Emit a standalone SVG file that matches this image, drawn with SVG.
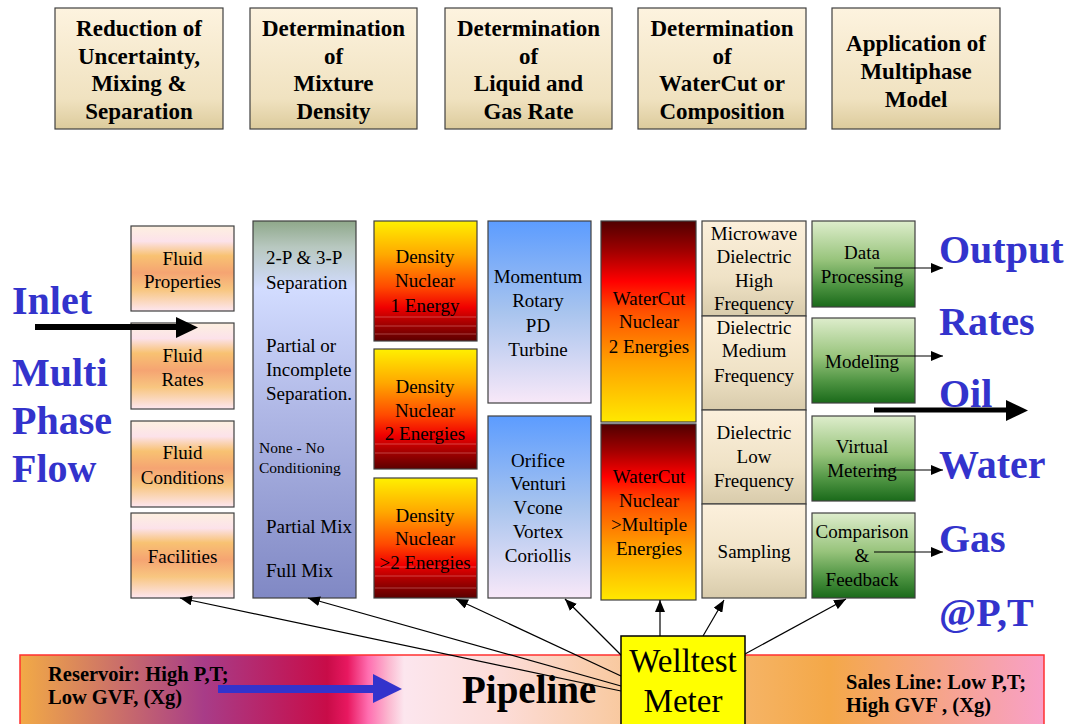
<svg xmlns="http://www.w3.org/2000/svg" width="1072" height="724" viewBox="0 0 1072 724">
<style>
.t{font-family:"Liberation Serif","Times New Roman",serif;fill:#000}
.tb{font-family:"Liberation Serif","Times New Roman",serif;font-weight:bold;font-size:23px;text-anchor:middle;fill:#000}
.c{font-size:19px;text-anchor:middle}
.big{font-family:"Liberation Serif","Times New Roman",serif;font-weight:bold;font-size:40px;fill:#3333cc}
.box{stroke:#404040;stroke-width:1.2}
.ln{stroke:#000;stroke-width:1.2;fill:none}
</style>
<defs>
<linearGradient id="gTop" x1="0" y1="0" x2="0" y2="1">
<stop offset="0" stop-color="#fdf3df"/><stop offset="0.75" stop-color="#f0e2c0"/><stop offset="1" stop-color="#dccb9c"/>
</linearGradient>
<linearGradient id="gFluid" x1="0" y1="0" x2="0" y2="1">
<stop offset="0" stop-color="#fdf0e0"/><stop offset="0.18" stop-color="#fce2ea"/><stop offset="0.35" stop-color="#f8c272"/><stop offset="0.55" stop-color="#f5a472"/><stop offset="0.75" stop-color="#f8c680"/><stop offset="1" stop-color="#fde6f0"/>
</linearGradient>
<linearGradient id="gSep" x1="0" y1="0" x2="0" y2="1">
<stop offset="0" stop-color="#8fa88a"/><stop offset="0.07" stop-color="#b8c8c0"/><stop offset="0.18" stop-color="#d2dcff"/><stop offset="0.5" stop-color="#b0b8e6"/><stop offset="1" stop-color="#8088c4"/>
</linearGradient>
<linearGradient id="gDen" x1="0" y1="0" x2="0" y2="1">
<stop offset="0" stop-color="#fff000"/><stop offset="0.28" stop-color="#ffa800"/><stop offset="0.55" stop-color="#ff4a00"/><stop offset="0.72" stop-color="#f00000"/><stop offset="0.85" stop-color="#a80000"/><stop offset="1" stop-color="#5c0000"/>
</linearGradient>
<linearGradient id="gFlow" x1="0" y1="0" x2="0" y2="1">
<stop offset="0" stop-color="#5c9cff"/><stop offset="0.5" stop-color="#a8c4ee"/><stop offset="1" stop-color="#f8e8f8"/>
</linearGradient>
<linearGradient id="gWc" x1="0" y1="0" x2="0" y2="1">
<stop offset="0" stop-color="#500000"/><stop offset="0.15" stop-color="#a00000"/><stop offset="0.3" stop-color="#ff0000"/><stop offset="0.45" stop-color="#ff5000"/><stop offset="0.7" stop-color="#ffa000"/><stop offset="1" stop-color="#ffe800"/>
</linearGradient>
<linearGradient id="gDie" x1="0" y1="0" x2="0" y2="1">
<stop offset="0" stop-color="#fcf0dc"/><stop offset="0.6" stop-color="#efe2c6"/><stop offset="1" stop-color="#d8cbab"/>
</linearGradient>
<linearGradient id="gGreen" x1="0" y1="0" x2="0" y2="1">
<stop offset="0" stop-color="#deedcc"/><stop offset="0.45" stop-color="#98c47c"/><stop offset="0.75" stop-color="#4e9442"/><stop offset="1" stop-color="#1a6a1a"/>
</linearGradient>
<linearGradient id="gBar" x1="0" y1="0" x2="1" y2="0">
<stop offset="0" stop-color="#f2aa46"/><stop offset="0.18" stop-color="#a83c88"/><stop offset="0.3" stop-color="#c80c48"/><stop offset="0.32" stop-color="#e81860"/><stop offset="0.34" stop-color="#ff6eb0"/><stop offset="0.36" stop-color="#fbb8d0"/><stop offset="0.375" stop-color="#fce6ee"/><stop offset="0.47" stop-color="#fcdcd8"/><stop offset="0.57" stop-color="#f9cca8"/><stop offset="0.68" stop-color="#f6b870"/><stop offset="0.79" stop-color="#f4a848"/><stop offset="1" stop-color="#f8a0c8"/>
</linearGradient>
<marker id="ah" viewBox="0 0 12 10" refX="12" refY="5" markerWidth="12" markerHeight="10" markerUnits="userSpaceOnUse" orient="auto">
<path d="M0,0 L12,5 L0,10 Z" fill="#000"/>
</marker>
</defs>

<!-- top header boxes -->
<g id="h1"><rect class="box" x="55" y="8" width="168" height="121" fill="url(#gTop)"/>
<text class="tb" x="139" y="36">Reduction of</text><text class="tb" x="139" y="63.5">Uncertainty,</text><text class="tb" x="139" y="91">Mixing &amp;</text><text class="tb" x="139" y="118.5">Separation</text></g>
<g id="h2"><rect class="box" x="250" y="8" width="167" height="121" fill="url(#gTop)"/>
<text class="tb" x="333.5" y="36">Determination</text><text class="tb" x="333.5" y="63.5">of</text><text class="tb" x="333.5" y="91">Mixture</text><text class="tb" x="333.5" y="118.5">Density</text></g>
<g id="h3"><rect class="box" x="445" y="8" width="167" height="121" fill="url(#gTop)"/>
<text class="tb" x="528.5" y="36">Determination</text><text class="tb" x="528.5" y="63.5">of</text><text class="tb" x="528.5" y="91">Liquid and</text><text class="tb" x="528.5" y="118.5">Gas Rate</text></g>
<g id="h4"><rect class="box" x="638" y="8" width="168" height="121" fill="url(#gTop)"/>
<text class="tb" x="722" y="36">Determination</text><text class="tb" x="722" y="63.5">of</text><text class="tb" x="722" y="91">WaterCut or</text><text class="tb" x="722" y="118.5">Composition</text></g>
<g id="h5"><rect class="box" x="832" y="8" width="168" height="121" fill="url(#gTop)"/>
<text class="tb" x="916" y="51">Application of</text><text class="tb" x="916" y="79">Multiphase</text><text class="tb" x="916" y="107">Model</text></g>

<!-- side labels -->
<g id="inlet-label">
<text class="big" x="12" y="314">Inlet</text>
<text class="big" x="12" y="386">Multi</text>
<text class="big" x="12" y="434">Phase</text>
<text class="big" x="12" y="482">Flow</text>
</g>
<g id="output-label">
<text class="big" x="939" y="263">Output</text>
<text class="big" x="939" y="335">Rates</text>
<text class="big" x="939" y="407">Oil</text>
<text class="big" x="939" y="478">Water</text>
<text class="big" x="939" y="552">Gas</text>
<text class="big" x="939" y="626">@P,T</text>
</g>

<!-- fluid column -->
<g id="fluid-properties"><rect class="box" x="131" y="226" width="103" height="85" fill="url(#gFluid)"/>
<text class="t c" x="182.5" y="265">Fluid</text><text class="t c" x="182.5" y="288">Properties</text></g>
<g id="fluid-rates"><rect class="box" x="131" y="323" width="103" height="86" fill="url(#gFluid)"/>
<text class="t c" x="182.5" y="362">Fluid</text><text class="t c" x="182.5" y="386">Rates</text></g>
<g id="fluid-conditions"><rect class="box" x="131" y="421" width="103" height="86" fill="url(#gFluid)"/>
<text class="t c" x="182.5" y="459">Fluid</text><text class="t c" x="182.5" y="484">Conditions</text></g>
<g id="facilities"><rect class="box" x="131" y="513" width="103" height="85" fill="url(#gFluid)"/>
<text class="t c" x="182.5" y="563">Facilities</text></g>

<!-- separation column -->
<g id="separation"><rect class="box" x="253" y="221" width="103" height="377" fill="url(#gSep)"/>
<text class="t" font-size="19" x="266" y="264">2-P &amp; 3-P</text>
<text class="t" font-size="19" x="266" y="289">Separation</text>
<text class="t" font-size="19" x="266" y="352">Partial or</text>
<text class="t" font-size="19" x="266" y="376">Incomplete</text>
<text class="t" font-size="19" x="266" y="400">Separation.</text>
<text class="t" font-size="15.5" x="259" y="453">None - No</text>
<text class="t" font-size="15.5" x="259" y="473">Conditioning</text>
<text class="t" font-size="19" x="266" y="533">Partial Mix</text>
<text class="t" font-size="19" x="266" y="577">Full Mix</text>
</g>

<!-- density column -->
<g id="density-1"><rect class="box" x="374" y="221" width="103" height="120" fill="url(#gDen)"/>
<path d="M375,317H476M375,326H476M375,334H476" stroke="#ffc0c0" stroke-opacity="0.5" stroke-width="0.7"/>
<text class="t c" x="425" y="263">Density</text><text class="t c" x="425" y="287">Nuclear</text><text class="t c" x="425" y="312">1 Energy</text></g>
<g id="density-2"><rect class="box" x="374" y="349" width="103" height="120" fill="url(#gDen)"/>
<path d="M375,444H476M375,453H476" stroke="#ffc0c0" stroke-opacity="0.5" stroke-width="0.7"/>
<text class="t c" x="425" y="393">Density</text><text class="t c" x="425" y="417">Nuclear</text><text class="t c" x="425" y="440">2 Energies</text></g>
<g id="density-3"><rect class="box" x="374" y="478" width="103" height="120" fill="url(#gDen)"/>
<path d="M375,567H476M375,576H476M375,588H476" stroke="#ffc0c0" stroke-opacity="0.5" stroke-width="0.7"/>
<text class="t c" x="425" y="522">Density</text><text class="t c" x="425" y="545">Nuclear</text><text class="t c" x="425" y="569">&gt;2 Energies</text></g>

<!-- flow column -->
<g id="momentum"><rect class="box" x="488" y="221" width="103" height="182" fill="url(#gFlow)"/>
<text class="t c" x="538" y="283">Momentum</text><text class="t c" x="538" y="307">Rotary</text><text class="t c" x="538" y="332">PD</text><text class="t c" x="538" y="356">Turbine</text></g>
<g id="orifice"><rect class="box" x="488" y="416" width="103" height="182" fill="url(#gFlow)"/>
<text class="t c" x="538" y="467">Orifice</text><text class="t c" x="538" y="490">Venturi</text><text class="t c" x="538" y="514">Vcone</text><text class="t c" x="538" y="538">Vortex</text><text class="t c" x="538" y="562">Coriollis</text></g>

<!-- watercut column -->
<g id="watercut-1"><rect class="box" x="601" y="221" width="95" height="201" fill="url(#gWc)"/>
<text class="t c" x="649" y="305">WaterCut</text><text class="t c" x="649" y="328">Nuclear</text><text class="t c" x="649" y="353">2 Energies</text></g>
<g id="watercut-2"><rect class="box" x="601" y="424" width="95" height="176" fill="url(#gWc)"/>
<text class="t c" x="649" y="483">WaterCut</text><text class="t c" x="649" y="507">Nuclear</text><text class="t c" x="649" y="531">&gt;Multiple</text><text class="t c" x="649" y="555">Energies</text></g>

<!-- dielectric column -->
<g id="microwave"><rect class="box" x="702" y="221" width="104" height="95" fill="url(#gDie)" stroke="#6a6050"/>
<text class="t c" x="754" y="240">Microwave</text><text class="t c" x="754" y="263">Dielectric</text><text class="t c" x="754" y="287">High</text><text class="t c" x="754" y="310">Frequency</text></g>
<g id="dielectric-medium"><rect class="box" x="702" y="316" width="104" height="94" fill="url(#gDie)" stroke="#6a6050"/>
<text class="t c" x="754" y="334">Dielectric</text><text class="t c" x="754" y="357">Medium</text><text class="t c" x="754" y="382">Frequency</text></g>
<g id="dielectric-low"><rect class="box" x="702" y="410" width="104" height="94" fill="url(#gDie)" stroke="#6a6050"/>
<text class="t c" x="754" y="439">Dielectric</text><text class="t c" x="754" y="463">Low</text><text class="t c" x="754" y="487">Frequency</text></g>
<g id="sampling"><rect class="box" x="702" y="504" width="104" height="94" fill="url(#gDie)" stroke="#6a6050"/>
<text class="t c" x="754" y="558">Sampling</text></g>

<!-- green column -->
<g id="data-processing"><rect class="box" x="812" y="221" width="103" height="86" fill="url(#gGreen)"/>
<text class="t c" x="862" y="259">Data</text><text class="t c" x="862" y="283">Processing</text></g>
<g id="modeling"><rect class="box" x="812" y="318" width="103" height="85" fill="url(#gGreen)"/>
<text class="t c" x="862" y="368">Modeling</text></g>
<g id="virtual-metering"><rect class="box" x="812" y="416" width="103" height="85" fill="url(#gGreen)"/>
<text class="t c" x="862" y="453">Virtual</text><text class="t c" x="862" y="477">Metering</text></g>
<g id="comparison"><rect class="box" x="812" y="513" width="103" height="85" fill="url(#gGreen)"/>
<text class="t c" x="862" y="538">Comparison</text><text class="t c" x="862" y="562">&amp;</text><text class="t c" x="862" y="586">Feedback</text></g>

<!-- pipeline bar -->
<g id="pipeline">
<rect x="20" y="655" width="1024" height="72" fill="url(#gBar)" stroke="#ff3030" stroke-width="1.5"/>
<text class="t" font-weight="bold" font-size="20.5" x="48" y="681">Reservoir: High P,T;</text>
<text class="t" font-weight="bold" font-size="20.5" x="48" y="704">Low GVF, (Xg)</text>
<text class="t" font-weight="bold" font-size="39" x="462" y="703">Pipeline</text>
<text class="t" font-weight="bold" font-size="20.5" x="846" y="689">Sales Line: Low P,T;</text>
<text class="t" font-weight="bold" font-size="20.5" x="846" y="712">High GVF , (Xg)</text>
</g>

<!-- connectors -->
<g id="connectors">
<path class="ln" d="M621,691 L180,598" marker-end="url(#ah)"/>
<path class="ln" d="M621,686 L308,598" marker-end="url(#ah)"/>
<path class="ln" d="M621,676 L456,599" marker-end="url(#ah)"/>
<path class="ln" d="M621,655 L565,599" marker-end="url(#ah)"/>
<path class="ln" d="M660,636 L660,600" marker-end="url(#ah)"/>
<path class="ln" d="M703,636 L724,600" marker-end="url(#ah)"/>
<path class="ln" d="M745,654 L846,599" marker-end="url(#ah)"/>
<path class="ln" d="M874,268 L943,268" marker-end="url(#ah)"/>
<path class="ln" d="M874,356 L943,356" marker-end="url(#ah)"/>
<path class="ln" d="M874,470 L943,470" marker-end="url(#ah)"/>
<path class="ln" d="M874,552 L943,552" marker-end="url(#ah)"/>
<path d="M35,327 H178" stroke="#000" stroke-width="6"/>
<path d="M176,317 L198,327.5 L176,338 Z" fill="#000"/>
<path d="M874,410 H1008" stroke="#000" stroke-width="5"/>
<path d="M1006,400 L1028,410.5 L1006,421 Z" fill="#000"/>
<path d="M218,689 H375" stroke="#3333cc" stroke-width="8"/>
<path d="M373,674 L402,689 L373,703 Z" fill="#3333cc"/>
</g>

<!-- welltest meter -->
<g id="welltest-meter">
<rect x="621" y="636" width="124" height="92" fill="#ffff00" stroke="#000" stroke-width="1.5"/>
<text class="t" font-size="33" text-anchor="middle" x="683" y="672">Welltest</text>
<text class="t" font-size="33" text-anchor="middle" x="683" y="712">Meter</text>
</g>
</svg>
